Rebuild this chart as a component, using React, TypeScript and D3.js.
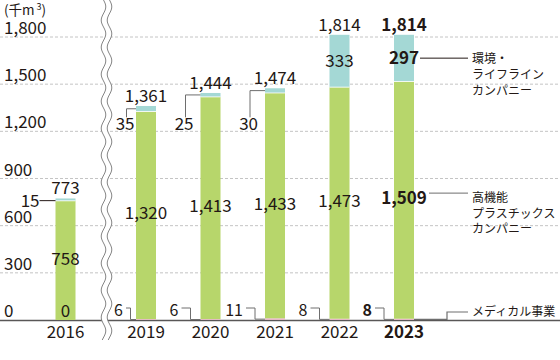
import React from "react";
import * as d3 from "d3";

const years = [2016, 2019, 2020, 2021, 2022, 2023];
const medical = [0, 6, 6, 11, 8, 8];
const plastics = [758, 1320, 1413, 1433, 1473, 1509];
const lifeline = [15, 35, 25, 30, 333, 297];
const totals = [773, 1361, 1444, 1474, 1814, 1814];
const yTicks = [0, 300, 600, 900, 1200, 1500, 1800];
const lifelineLabel = ["環境・", "ライフライン", "カンパニー"];
const plasticsLabel = ["高機能", "プラスチックス", "カンパニー"];
const medicalLabel = "メディカル事業";

const W = 560;
const H = 360;
const FONT = "'Noto Sans CJK JP', 'Noto Sans', sans-serif";
const TXT = "#231815";
const LINE = "#6e6e6e";
const GREEN = "#b7d66b";
const TEAL = "#a4d8d5";
const PINK = "#e7b7c7";
const NUM = 17;
const JP = 12;

export default function App() {
  const y = d3.scaleLinear().domain([0, 1800]).range([320, 37]);
  // piecewise scale: broken axis between 2016 and 2019
  const x = d3.scaleLinear().domain([2016, 2019, 2023]).range([65.5, 146, 404]);
  const bw = 20;
  const fmt = d3.format(",");
  const last = years.length - 1;
  const rightX = 472;
  const leaderEnd = 468;

  const waveLine = (cx: number) => {
    const pts: [number, number][] = d3.range(0, 341, 2).map((yy) => [cx + 2.3 * Math.sin((2 * Math.PI * yy) / 27), yy]);
    return pts;
  };
  const wl = waveLine(103.5);
  const wr = waveLine(109.5);
  const line = d3.line();
  const fillPath = line([...wl, ...wr.slice().reverse()]) + "Z";

  return (
    <svg width={W} height={H} style={{ display: "block", position: "absolute", left: 0, top: 0 }} fontFamily={FONT}>
      <rect width={W} height={H} fill="#fff" />
      {yTicks.filter((t) => t > 0).map((t) => (
        <line key={t} x1={0} x2={W} y1={y(t)} y2={y(t)} stroke="#b5b5b5" strokeDasharray="3,2" strokeWidth={0.8} />
      ))}
      <line x1={0} x2={W} y1={y(0) + 0.5} y2={y(0) + 0.5} stroke="#595757" strokeWidth={1.6} />
      {yTicks.map((t) => (
        <text key={t} x={4} y={y(t) - 3} fontSize={NUM} fill={TXT}>{fmt(t)}</text>
      ))}
      <text x={4} y={15} fontSize={13.5} fill={TXT}>
        (千m<tspan fontSize={9} dy={-5} dx={2}>3</tspan><tspan dy={5}>)</tspan>
      </text>

      {years.map((yr, i) => {
        const cx = x(yr);
        const x0 = cx - bw / 2;
        const m = medical[i];
        const p = plastics[i];
        const l = lifeline[i];
        return (
          <g key={yr}>
            {m > 0 && <rect x={x0} y={y(m)} width={bw} height={y(0) - y(m)} fill={PINK} />}
            <rect x={x0} y={y(m + p)} width={bw} height={y(m) - y(m + p)} fill={GREEN} />
            <rect x={x0} y={y(m + p + l)} width={bw} height={y(m + p) - y(m + p + l)} fill={TEAL} />
            <line x1={x0} x2={x0 + bw} y1={y(m + p)} y2={y(m + p)} stroke="#fff" strokeWidth={0.8} />
          </g>
        );
      })}

      <path d={fillPath} fill="#fff" />
      <path d={line(wl) || ""} fill="none" stroke="#777" strokeWidth={0.9} />
      <path d={line(wr) || ""} fill="none" stroke="#777" strokeWidth={0.9} />

      {years.map((yr, i) => {
        const cx = x(yr);
        const x0 = cx - bw / 2;
        const m = medical[i];
        const p = plastics[i];
        const l = lifeline[i];
        const bold = i === last ? 700 : 400;
        const envMid = y(m + p + l / 2);
        const plMid = y(m + p / 2) - 2;
        const els: React.ReactNode[] = [];
        els.push(
          <text key="t" x={cx} y={y(totals[i]) - 4} fontSize={NUM} textAnchor="middle" fill={TXT} fontWeight={bold}>{fmt(totals[i])}</text>
        );
        els.push(
          <text key="p" x={cx} y={plMid} dy="0.36em" fontSize={NUM} textAnchor="middle" fill={TXT} fontWeight={bold}>{fmt(p)}</text>
        );
        if (l > 100) {
          els.push(
            <text key="l" x={cx} y={envMid} dy="0.36em" fontSize={NUM} textAnchor="middle" fill={TXT} fontWeight={bold}>{fmt(l)}</text>
          );
        } else if (i === 0) {
          els.push(<line key="ll" x1={x0 - 16} x2={x0} y1={envMid + 1} y2={envMid + 1} stroke={TXT} strokeWidth={1} />);
          els.push(<text key="l" x={x0 - 16} y={envMid + 1} dy="0.36em" fontSize={NUM} textAnchor="end" fill={TXT}>{fmt(l)}</text>);
        } else {
          const vx = i === 1 ? x0 - 9.5 : x0 - 15;
          const base = y(1200) - 1;
          els.push(
            <path key="ll" d={`M${x0},${envMid}H${vx}V${base - 13}`} fill="none" stroke={LINE} strokeWidth={1} />
          );
          els.push(<text key="l" x={vx + 8} y={base} fontSize={NUM} textAnchor="end" fill={TXT}>{fmt(l)}</text>);
        }
        if (i === 0) {
          els.push(<text key="m" x={cx} y={y(0) - 3} fontSize={NUM} textAnchor="middle" fill={TXT}>{fmt(m)}</text>);
        } else {
          const vx = i === 1 ? x0 - 5.5 : x0 - 10;
          const labR = i === 1 ? x0 - 13 : x0 - 22;
          els.push(
            <path key="ml" d={`M${labR + 3},${308}H${vx}V${y(m / 2)}H${x0}`} fill="none" stroke={LINE} strokeWidth={1} />
          );
          els.push(<text key="m" x={labR} y={316} fontSize={16} textAnchor="end" fill={TXT} fontWeight={bold}>{fmt(m)}</text>);
        }
        els.push(
          <text key="y" x={cx} y={338} fontSize={NUM} textAnchor="middle" fill={TXT} fontWeight={bold}>{yr}</text>
        );
        return <g key={yr}>{els}</g>;
      })}

      {(() => {
        const i = last;
        const cx = x(years[i]);
        const x0 = cx - bw / 2;
        const m = medical[i];
        const p = plastics[i];
        const l = lifeline[i];
        const envMid = y(m + p + l / 2);
        const plMid = y(m + p / 2) - 2;
        return (
          <g>
            <line x1={cx + 16} x2={leaderEnd} y1={envMid} y2={envMid} stroke={TXT} strokeWidth={1} />
            {lifelineLabel.map((s, k) => (
              <text key={k} x={rightX} y={envMid + 5 + k * 16} fontSize={JP} fill={TXT}>{s}</text>
            ))}
            <line x1={cx + 25} x2={leaderEnd} y1={plMid - 5} y2={plMid - 5} stroke={LINE} strokeWidth={1} />
            {plasticsLabel.map((s, k) => (
              <text key={k} x={rightX} y={plMid + 4 + k * 15.5} fontSize={JP} fill={TXT}>{s}</text>
            ))}
            <path d={`M${x0 + bw},${y(m / 2)}H447V312H${leaderEnd}`} fill="none" stroke={LINE} strokeWidth={1.2} />
            <text x={rightX} y={312} dy="0.36em" fontSize={JP} fill={TXT}>{medicalLabel}</text>
          </g>
        );
      })()}
    </svg>
  );
}
